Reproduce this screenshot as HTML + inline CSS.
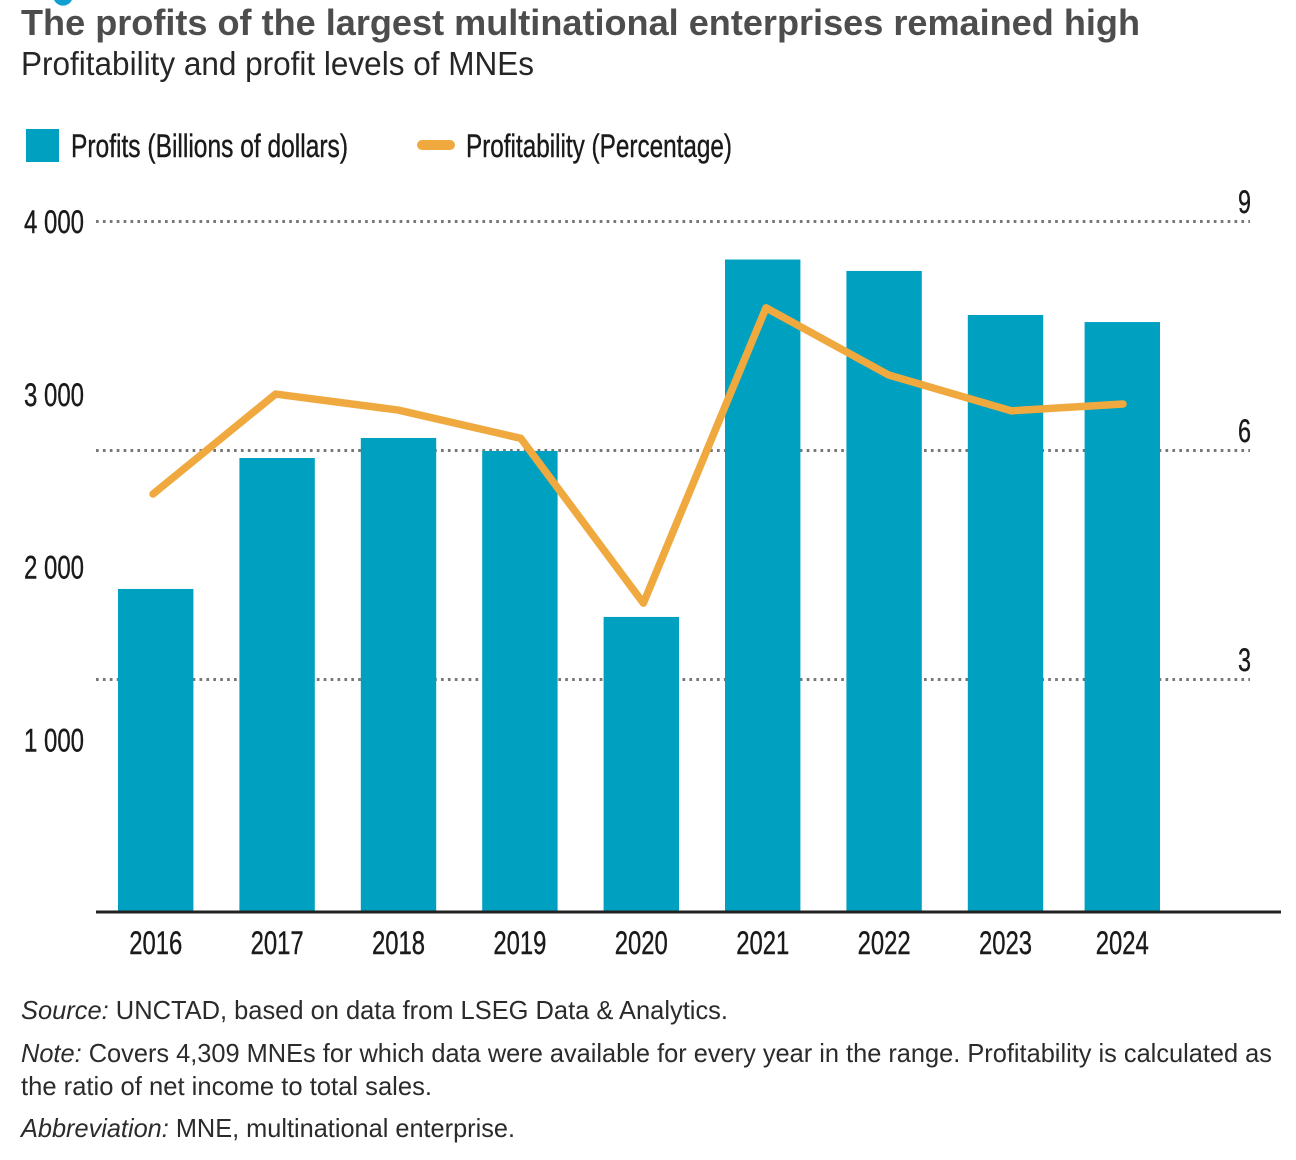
<!DOCTYPE html>
<html lang="en">
<head>
<meta charset="utf-8">
<title>Profitability and profit levels of MNEs</title>
<style>
html,body{margin:0;padding:0;background:#fff;width:1296px;height:1160px;overflow:hidden}
svg{display:block;font-family:"Liberation Sans",Arial,sans-serif}
.narrow{font-family:"Liberation Sans Narrow","Liberation Sans",sans-serif;fill:#1a1a1a;font-size:32px;stroke:#1a1a1a;stroke-width:.4px}
.note{font-size:26px;fill:#2b2b2b}
</style>
</head>
<body>
<svg id="chart" xmlns="http://www.w3.org/2000/svg" width="1296" height="1160" viewBox="0 0 1296 1160">
  <path d="M54 0 A10 10 0 0 0 72 0 Z" fill="#0f9fd0"/>
  <text x="21" y="35" font-size="36" font-weight="700" fill="#4d4d4d" textLength="1119" lengthAdjust="spacingAndGlyphs">The profits of the largest multinational enterprises remained high</text>
  <text x="21" y="75" font-size="33" fill="#262626" textLength="513" lengthAdjust="spacingAndGlyphs">Profitability and profit levels of MNEs</text>

  <g>
    <rect x="26" y="129" width="33" height="33" fill="#00a0c0"/>
    <text class="narrow" x="71" y="157" textLength="277" lengthAdjust="spacingAndGlyphs">Profits (Billions of dollars)</text>
    <line x1="422" y1="145" x2="450" y2="145" stroke="#f0a93f" stroke-width="10" stroke-linecap="round"/>
    <text class="narrow" x="466" y="157" textLength="266" lengthAdjust="spacingAndGlyphs">Profitability (Percentage)</text>
  </g>

  <g id="grid"></g>
  <g id="bars"></g>
  <line x1="96" y1="912" x2="1281" y2="912" stroke="#222" stroke-width="3"/>
  <g id="line"></g>
  <g id="leftTicks"></g>
  <g id="rightTicks"></g>
  <g id="xTicks"></g>

  <g>
    <text class="note" x="21" y="1019" textLength="707" lengthAdjust="spacingAndGlyphs"><tspan font-style="italic">Source:</tspan> UNCTAD, based on data from LSEG Data &amp; Analytics.</text>
    <text class="note" x="21" y="1062" textLength="1251" lengthAdjust="spacingAndGlyphs"><tspan font-style="italic">Note:</tspan> Covers 4,309 MNEs for which data were available for every year in the range. Profitability is calculated as</text>
    <text class="note" x="21" y="1095" textLength="411" lengthAdjust="spacingAndGlyphs">the ratio of net income to total sales.</text>
    <text class="note" x="21" y="1137" textLength="494" lengthAdjust="spacingAndGlyphs"><tspan font-style="italic">Abbreviation:</tspan> MNE, multinational enterprise.</text>
  </g>
</svg>
<script>
const years = ['2016','2017','2018','2019','2020','2021','2022','2023','2024'];
const profits = [1870,2628,2744,2669,1708,3777,3711,3456,3415];
const profitability = [5.43,6.74,6.53,6.16,4.0,7.87,6.99,6.52,6.61];
const leftTickValues = [1000,2000,3000,4000];
const leftTickLabels = ['1 000','2 000','3 000','4 000'];
const rightTickValues = [3,6,9];
const rightTickLabels = ['3','6','9'];

const NS = 'http://www.w3.org/2000/svg';
function yLeft(v){ return 912 - v * 0.17275; }
function yRight(v){ return 908.5 - v * 76.33; }
function xBar(i){ return 155.7 + 121.4 * i - (i === 8 ? 4.6 : 0); }
function xLine(i){ return 153 + 122.6 * i - (i === 8 ? 10.8 : 0); }
function make(tag, attrs, parent){
  const el = document.createElementNS(NS, tag);
  for (const k in attrs) el.setAttribute(k, attrs[k]);
  parent.appendChild(el);
  return el;
}
const gridG = document.getElementById('grid');
const barsG = document.getElementById('bars');
const lineG = document.getElementById('line');
const leftG = document.getElementById('leftTicks');
const rightG = document.getElementById('rightTicks');
const xG = document.getElementById('xTicks');

rightTickValues.forEach(function(v, i){
  const y = yRight(v);
  const g = make('line', {x1:96, y1:y, x2:1250, y2:y, stroke:'#777', 'stroke-width':3, 'stroke-dasharray':'2.7 4.2'}, gridG);
  
  
  const t = make('text', {x:1238, y:y - 8.5, class:'narrow', textLength:13, lengthAdjust:'spacingAndGlyphs'}, rightG);
  
  
  t.textContent = rightTickLabels[i];
});

leftTickValues.forEach(function(v, i){
  const t = make('text', {x:24, y:yLeft(v) + 12, class:'narrow', textLength:60, lengthAdjust:'spacingAndGlyphs'}, leftG);
  
  
  t.textContent = leftTickLabels[i];
});

years.forEach(function(year, i){
  const top = yLeft(profits[i]);
  const b = make('rect', {x:xBar(i) - 37.7, y:top, width:75.4, height:912 - top, fill:'#00a0c0'}, barsG);
  
  
  const t = make('text', {x:xBar(i), y:954, 'text-anchor':'middle', class:'narrow', textLength:53, lengthAdjust:'spacingAndGlyphs'}, xG);
  
  
  t.textContent = year;
});

const pts = profitability.map(function(v, i){ return xLine(i) + ',' + yRight(v); }).join(' ');
const poly = make('polyline', {points:pts, fill:'none', stroke:'#f0a93f', 'stroke-width':7.5, 'stroke-linecap':'round', 'stroke-linejoin':'round'}, lineG);


</script>
</body>
</html>
